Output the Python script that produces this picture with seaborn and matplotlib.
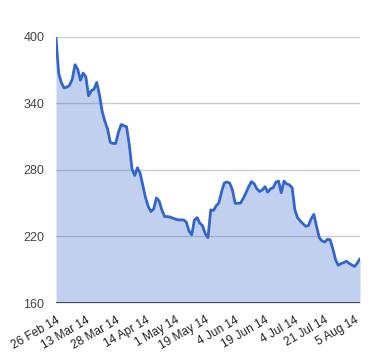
import matplotlib
matplotlib.use("Agg")
import matplotlib.pyplot as plt
import seaborn as sns
import pandas as pd
import numpy as np

values = [
    399, 367, 358.7, 354, 354.7, 356.5, 362, 375, 371, 361,
    367.5, 364, 347, 351.5, 353, 359, 348, 333, 324, 317,
    305, 304, 304, 314, 321, 320, 319, 303, 281, 275,
    282, 277, 266, 255, 247, 242.5, 245, 254.8, 252, 244,
    238, 238, 237.5, 236.6, 235.7, 235, 235, 235, 233, 225,
    221.5, 235, 237, 232, 229.7, 222.5, 219, 244, 243.5, 247.7,
    250.3, 260.5, 268.3, 269.2, 268.2, 262, 250, 250, 250.2, 254.5,
    259.5, 265, 269.5, 267.6, 263, 260.7, 262, 265, 260, 263,
    264, 269, 270, 259.5, 270, 267.4, 266.6, 264, 244, 237,
    234, 231.5, 229.3, 229.8, 236, 240, 229, 219, 216, 215,
    217.5, 217, 209, 199, 194, 195.6, 196.5, 197.7, 195.8, 194.3,
    193, 196, 200,
]
tick_labels = ["26 Feb 14", "13 Mar 14", "28 Mar 14", "14 Apr 14", "1 May 14",
               "19 May 14", "4 Jun 14", "19 Jun 14", "4 Jul 14", "21 Jul 14",
               "5 Aug 14"]
tick_step = 11
y_ticks = [160, 220, 280, 340, 400]

df = pd.DataFrame({"idx": np.arange(len(values)), "value": values})

sns.set_style("white")
plt.rcParams["font.family"] = ["Liberation Sans", "DejaVu Sans"]

fig = plt.figure(figsize=(3.8, 3.6), dpi=100)
ax = fig.add_axes([56 / 380, 1 - 303 / 360, 304 / 380, 266 / 360])

line_color = "#3366cc"
for yv in y_ticks[1:]:
    ax.axhline(yv, color="#cccccc", lw=1, zorder=0)

ax.fill_between(df["idx"], df["value"], 160, color=line_color, alpha=0.3,
                lw=0, zorder=1)
sns.lineplot(data=df, x="idx", y="value", ax=ax, color=line_color, lw=2,
             zorder=3)
ax.axhline(160, color="#333333", lw=1.2, zorder=4)

ax.set_xlim(0, len(values) - 1)
ax.set_ylim(160, 400)
ax.set_xlabel("")
ax.set_ylabel("")
for s in ax.spines.values():
    s.set_visible(False)

ax.set_yticks(y_ticks)
ax.set_yticklabels([str(v) for v in y_ticks])
ax.tick_params(axis="y", length=0, pad=8.5, labelsize=9, labelcolor="#444444")

ax.set_xticks([i * tick_step for i in range(len(tick_labels))])
ax.set_xticklabels(tick_labels, rotation=30, ha="right", va="top",
                   rotation_mode="anchor")
ax.tick_params(axis="x", length=0, pad=8, labelsize=8.6, labelcolor="#222222")

fig.savefig("out.png", dpi=100)
